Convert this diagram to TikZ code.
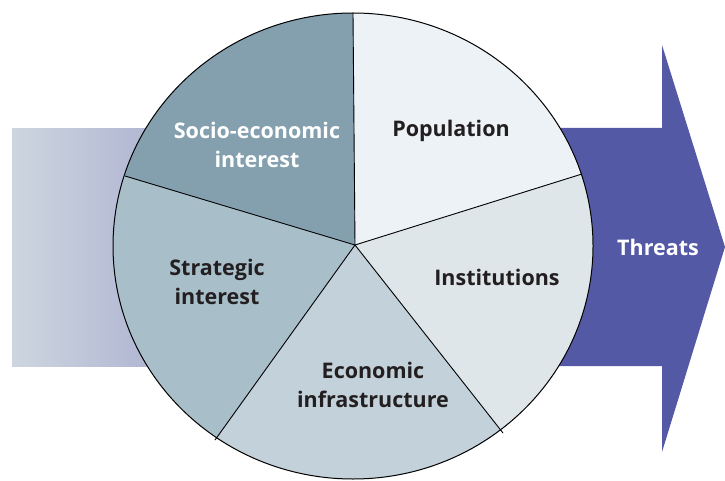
\documentclass[tikz,border=0pt]{standalone}
\usepackage{fontspec}
\setmainfont{Open Sans}
\usetikzlibrary{calc}
\definecolor{arrowblue}{HTML}{5459A6}
\definecolor{gradL}{HTML}{CDD6DF}
\definecolor{gradR}{HTML}{A8ABCF}
\definecolor{segSocio}{HTML}{84A0AE}
\definecolor{segPop}{HTML}{EDF2F6}
\definecolor{segInst}{HTML}{DFE6EA}
\definecolor{segEcon}{HTML}{C3D1DA}
\definecolor{segStrat}{HTML}{A8BFCA}
\definecolor{darktext}{HTML}{231F20}
\tikzset{
  lbl/.style={font=\fontsize{21.5}{29}\selectfont\bfseries, align=center, text=darktext, inner sep=0pt},
  divline/.style={draw=black, line width=0.9pt},
}
\begin{document}
\begin{tikzpicture}[x=1pt,y=-1pt]
\useasboundingbox (0,0) rectangle (725,481);
% left gradient band
\shade[left color=gradL, right color=gradR] (12,129) rectangle (200,366);
% right arrow
\fill[arrowblue] (500,128) -- (662,128) -- (662,45) -- (725,247) -- (662,452) -- (662,366) -- (500,366) -- cycle;
% circle
\coordinate (c) at (355,245);
\coordinate (pT) at (353,13);
\coordinate (pR) at (582,174);
\coordinate (pBR) at (503,433);
\coordinate (pBL) at (215,440);
\coordinate (pL) at (125,176);
\begin{scope}
\clip (353,246) ellipse [x radius=240, y radius=233];
\fill[segPop] (c) -- ($(c)!2!(pT)$) -- ($(c)!2!(pR)$) -- cycle;
\fill[segInst] (c) -- ($(c)!2!(pR)$) -- ($(c)!2!(pBR)$) -- cycle;
\fill[segEcon] (c) -- ($(c)!2!(pBR)$) -- ($(c)!2!(pBL)$) -- cycle;
\fill[segStrat] (c) -- ($(c)!2!(pBL)$) -- ($(c)!2!(pL)$) -- cycle;
\fill[segSocio] (c) -- ($(c)!2!(pL)$) -- ($(c)!2!(pT)$) -- cycle;
\end{scope}
\draw[divline] (c) -- (pT);
\draw[divline] (c) -- (pR);
\draw[divline] (c) -- (pBR);
\draw[divline] (c) -- (pBL);
\draw[divline] (c) -- (pL);
\draw[black, line width=1pt] (353,246) ellipse [x radius=240, y radius=233];
% labels
\node[lbl, text=white] (socio) at (257,145) {Socio-economic\\interest};
\node[lbl] (pop) at (451,131) {Population};
\node[lbl] (inst) at (497,277) {Institutions};
\node[lbl] (econ) at (373,385) {Economic\\infrastructure};
\node[lbl] (strat) at (217,282) {Strategic\\interest};
\node[lbl, text=white] (threats) at (658,247) {Threats};
\end{tikzpicture}
\end{document}
